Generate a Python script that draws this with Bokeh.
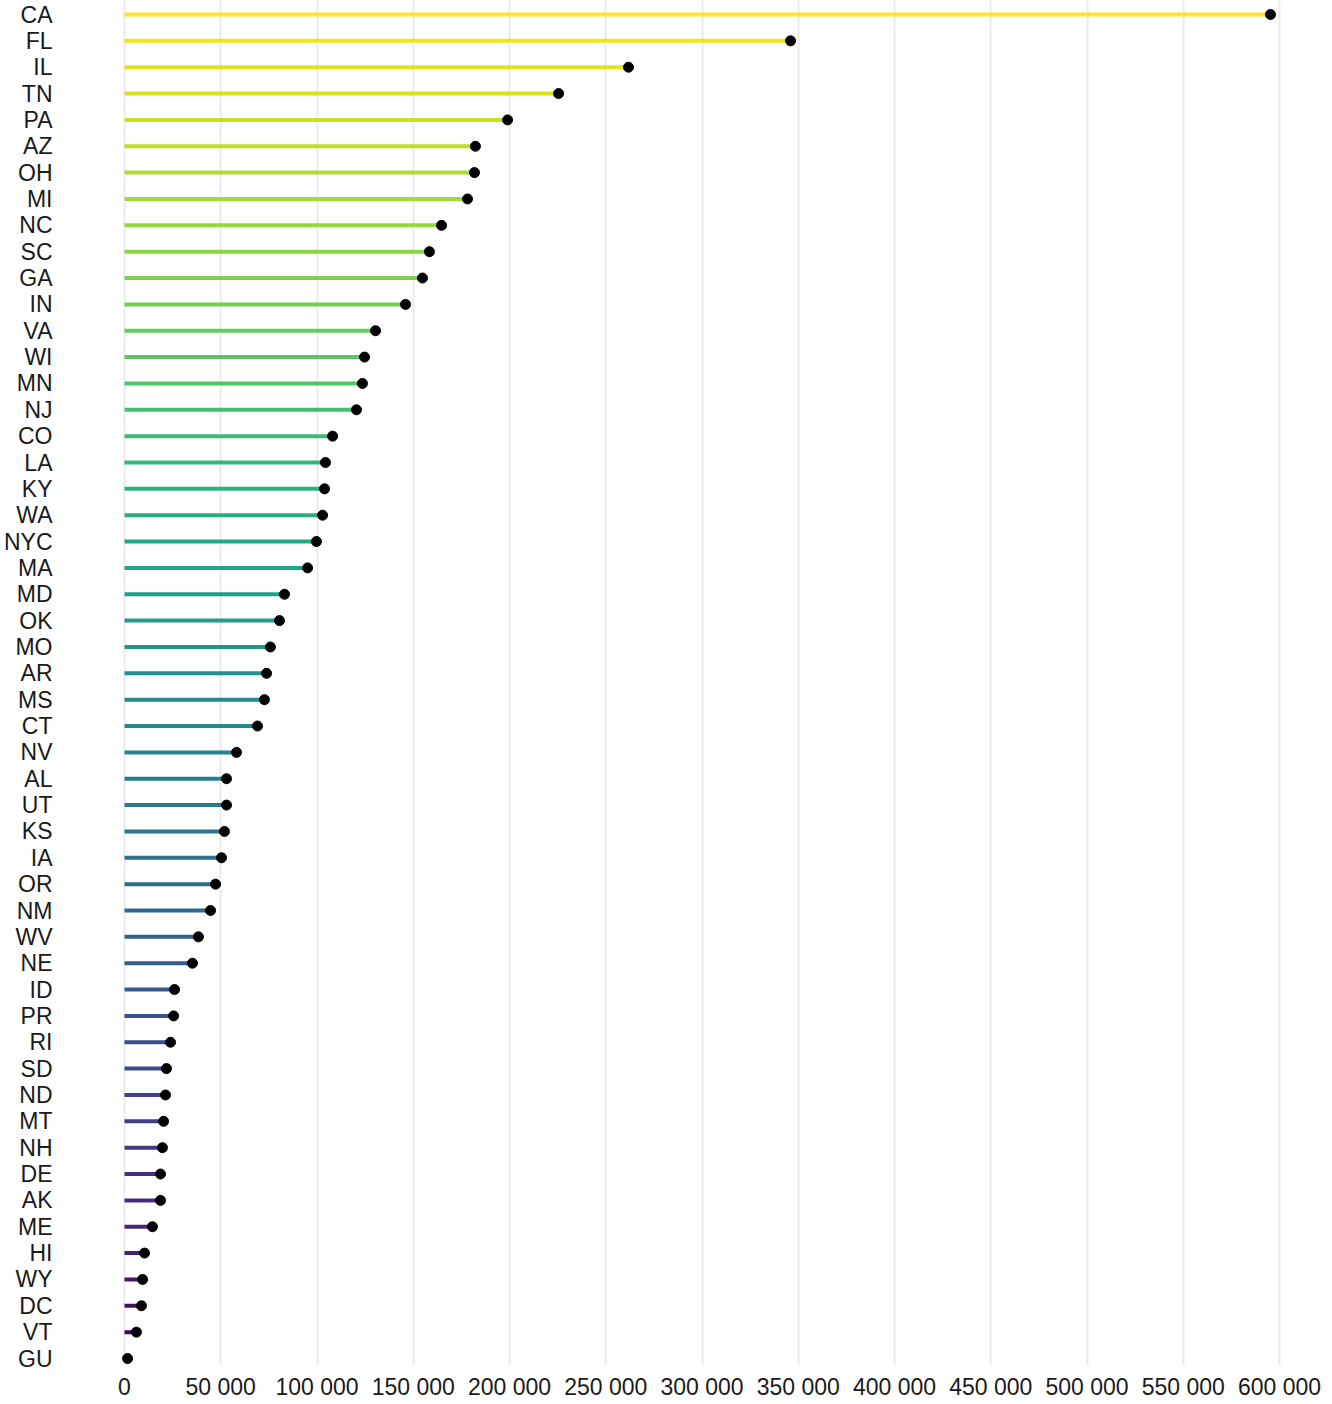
from bokeh.plotting import figure
from bokeh.models import Range1d, FixedTicker, CustomJSTickFormatter, ColumnDataSource
from bokeh.palettes import viridis
from bokeh.embed import file_html
from bokeh.resources import INLINE

states = ["CA", "FL", "IL", "TN", "PA", "AZ", "OH", "MI", "NC", "SC", "GA", "IN", "VA",
          "WI", "MN", "NJ", "CO", "LA", "KY", "WA", "NYC", "MA", "MD", "OK", "MO", "AR",
          "MS", "CT", "NV", "AL", "UT", "KS", "IA", "OR", "NM", "WV", "NE", "ID", "PR",
          "RI", "SD", "ND", "MT", "NH", "DE", "AK", "ME", "HI", "WY", "DC", "VT", "GU"]
values = [595300, 346000, 261800, 225500, 199000, 182300, 181800, 178200, 164700, 158400,
          154800, 146000, 130400, 124700, 123600, 120500, 108100, 104400, 103900, 102900,
          99700, 95100, 83100, 80500, 75800, 73800, 72700, 69100, 58200, 53000, 53000,
          51900, 50400, 47300, 44700, 38400, 35300, 26000, 25500, 23900, 21800, 21300,
          20300, 19700, 18700, 18700, 14500, 10400, 9400, 8800, 6200, 1600]
x_ticks = list(range(0, 600001, 50000))

n = len(states)
ypos = [n - 1 - i for i in range(n)]          # CA at top
pal = viridis(n)                               # dark -> yellow
colors = [pal[n - 1 - i] for i in range(n)]    # CA yellow, GU dark purple

src = ColumnDataSource(dict(y=ypos, v=values, zero=[0] * n, c=colors, name=states))

# pixel mapping: 0 -> x=124, 600000 -> x=1279; frame 68..1328
FL, FR = 68, 1328
scale = (1279 - 124) / 600000
x_start = (FL - 124) / scale
x_end = 600000 + (FR - 1279) / scale

H = 1402
axis_h = 37
frame_bottom = H - axis_h
top_y, bot_y = 14, frame_bottom - 7
row = (bot_y - top_y) / (n - 1)

p = figure(width=FR, height=H, output_backend="svg", toolbar_location=None,
           x_range=Range1d(x_start, x_end),
           y_range=Range1d(-7 / row, (n - 1) + top_y / row),
           min_border_left=FL, min_border_right=0, min_border_top=0, min_border_bottom=0)
p.outline_line_color = None
p.background_fill_color = "white"
p.border_fill_color = "white"

p.segment(x0="zero", y0="y", x1="v", y1="y", line_color="c", line_width=4, source=src)
p.scatter(x="v", y="y", size=10, fill_color="black", line_color="black", source=src)

# x axis
p.xaxis.ticker = FixedTicker(ticks=x_ticks)
p.xaxis.formatter = CustomJSTickFormatter(
    code="return Math.round(tick).toString().replace(/\\B(?=(\\d{3})+(?!\\d))/g, ' ');")
p.xaxis.axis_line_color = None
p.xaxis.major_tick_line_color = None
p.xaxis.minor_tick_line_color = None
p.xaxis.major_label_standoff = 2
p.xaxis.major_label_text_font = "Liberation Sans"
p.xaxis.major_label_text_font_size = "23px"
p.xaxis.major_label_text_color = "#1a1a1a"

# y axis
p.yaxis.ticker = FixedTicker(ticks=ypos)
p.yaxis.major_label_overrides = {y: s for y, s in zip(ypos, states)}
p.yaxis.axis_line_color = None
p.yaxis.major_tick_line_color = None
p.yaxis.minor_tick_line_color = None
p.yaxis.major_label_standoff = 10
p.yaxis.major_label_text_font = "Liberation Sans"
p.yaxis.major_label_text_font_size = "23px"
p.yaxis.major_label_text_color = "#1a1a1a"

p.xgrid.ticker = FixedTicker(ticks=x_ticks)
p.xgrid.grid_line_color = "#EBEBEB"
p.xgrid.grid_line_width = 2
p.ygrid.grid_line_color = None

open("out.html", "w").write(file_html(p, INLINE))
